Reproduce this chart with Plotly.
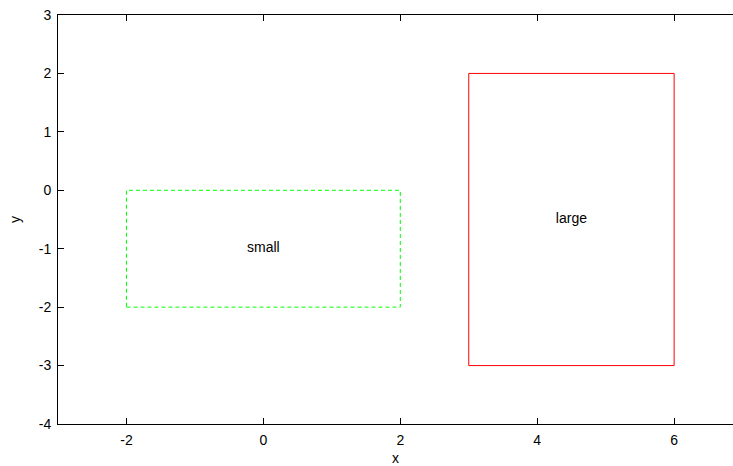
import plotly.graph_objects as go

labels = ["small", "large"]
x0 = [-2, 3]
x1 = [2, 6]
y0 = [-2, -3]
y1 = [0, 2]
label_x = [0, 4.5]
label_y = [-1, -0.5]
colors = ["#00ff00", "#ff0000"]
dashes = ["4px,3px", "solid"]
xticks = [-2, 0, 2, 4, 6]
yticks = [-4, -3, -2, -1, 0, 1, 2, 3]

FONT = "Liberation Sans, Arial, sans-serif"

fig = go.Figure()
for i in range(len(labels)):
    fig.add_trace(go.Scatter(
        x=[x0[i], x1[i], x1[i], x0[i], x0[i]],
        y=[y0[i], y0[i], y1[i], y1[i], y0[i]],
        mode="lines",
        line=dict(color=colors[i], width=1, dash=dashes[i]),
        showlegend=False, hoverinfo="skip"))
fig.add_trace(go.Scatter(
    x=label_x, y=label_y, text=labels, mode="text",
    textfont=dict(family=FONT, size=14, color="black"),
    showlegend=False, hoverinfo="skip"))

axis_common = dict(showgrid=False, zeroline=False, showline=True, linecolor="black",
                   linewidth=1, ticks="inside", ticklen=6, tickcolor="black",
                   tickfont=dict(family=FONT, size=14, color="black"))
fig.update_xaxes(range=[-3, 6.86], tickvals=xticks, ticktext=[str(v) for v in xticks],
                 mirror="ticks", ticklabelstandoff=3, automargin=False,
                 title=dict(text="x", standoff=8,
                 font=dict(family=FONT, size=14, color="black")),
                 **axis_common)
fig.update_yaxes(range=[-4, 3], tickvals=yticks, ticktext=[str(v) for v in yticks],
                 mirror=False, ticklabelstandoff=3, automargin=False,
                 title=dict(text="y", standoff=14,
                 font=dict(family=FONT, size=14, color="black")),
                 **axis_common)
fig.update_layout(width=733, height=466, margin=dict(l=58, r=0, t=15, b=42),
                  plot_bgcolor="white", paper_bgcolor="white")
fig.write_html("out.html", config={"displayModeBar": False},
               post_script="document.body.style.margin='0';document.body.style.overflow='hidden';")
